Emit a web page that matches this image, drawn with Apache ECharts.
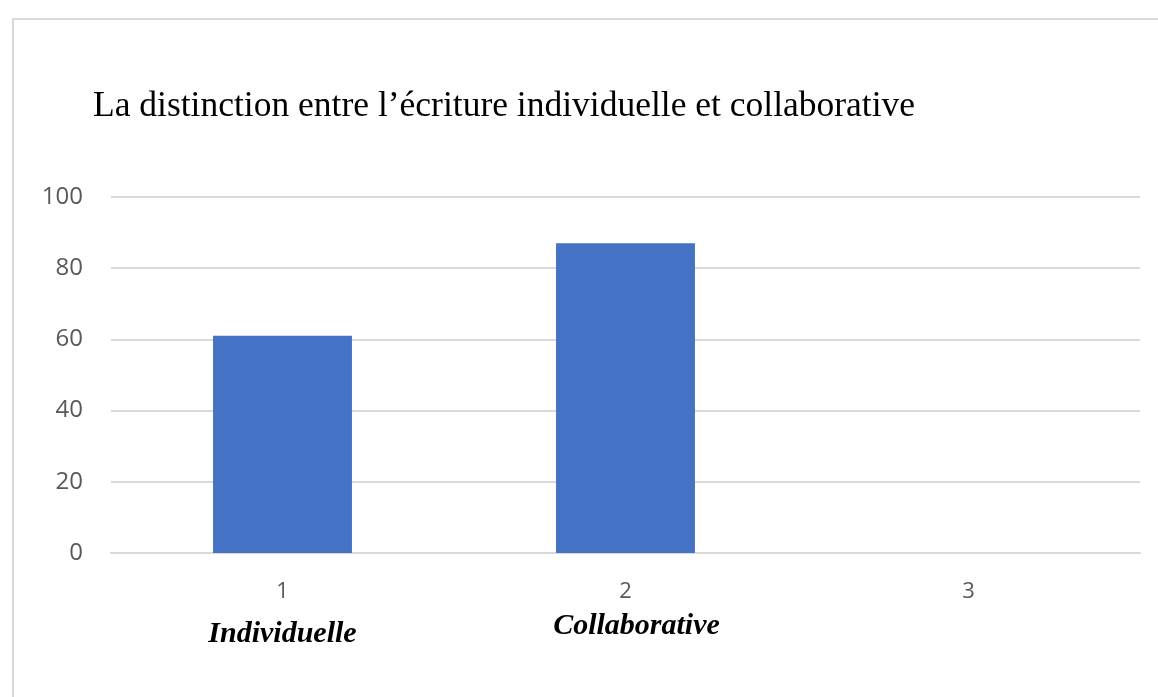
<!DOCTYPE html>
<html>
<head>
<meta charset="utf-8">
<script src="https://cdn.jsdelivr.net/npm/echarts@6/dist/echarts.min.js"></script>
<style>
  html, body { margin: 0; padding: 0; background: #fff; }
  .frame {
    position: absolute; left: 12px; top: 18px;
    width: 1160px; height: 700px;
    border: 2px solid #d9d9d9;
  }
  #main { position: absolute; left: 0; top: 0; width: 1158px; height: 697px; }
</style>
</head>
<body>
<div class="frame"></div>
<div id="main"></div>
<script>
// categories and values
var categories = ['1', '2', '3'];
var typeNames = ['Individuelle', 'Collaborative', ''];
var values = [61, 87, 0];
var yTicks = [0, 20, 40, 60, 80, 100];

var chartDom = document.getElementById('main');
var myChart = echarts.init(chartDom, null, { renderer: 'canvas' });
var nameStyle = {
  fontFamily: 'Liberation Serif',
  fontStyle: 'italic',
  fontWeight: 'bold',
  fontSize: 30,
  color: '#000'
};
var option = {
  animation: false,
  title: {
    text: 'La distinction entre l\u2019\u00e9criture individuelle et collaborative',
    left: 88,
    top: 84,
    textStyle: {
      fontFamily: 'Liberation Serif',
      fontWeight: 'normal',
      fontSize: 35.5,
      color: '#000'
    }
  },
  grid: {
    left: 111,
    right: 18,
    top: 197,
    bottom: 144
  },
  xAxis: {
    type: 'category',
    data: categories,
    axisTick: { show: false },
    axisLine: { lineStyle: { color: '#d9d9d9', width: 2 } },
    axisLabel: {
      margin: 19,
      formatter: function (v, i) {
        return '{num|' + v + '}\n{n' + i + '|' + (typeNames[i] || ' ') + '}';
      },
      rich: {
        num: {
          fontFamily: 'Open Sans',
          fontSize: 22,
          color: '#595959',
          lineHeight: 40
        },
        n0: Object.assign({ lineHeight: 44 }, nameStyle),
        n1: Object.assign({ lineHeight: 28, padding: [0, 0, 0, 22] }, nameStyle),
        n2: Object.assign({ lineHeight: 28 }, nameStyle)
      }
    }
  },
  yAxis: {
    type: 'value',
    min: yTicks[0],
    max: yTicks[yTicks.length - 1],
    interval: 20,
    axisLine: { show: false },
    axisTick: { show: false },
    axisLabel: {
      margin: 28,
      fontFamily: 'Open Sans',
      fontSize: 24,
      color: '#595959'
    },
    splitLine: { lineStyle: { color: '#d9d9d9', width: 2 } }
  },
  series: [
    {
      type: 'bar',
      data: values,
      barWidth: '40.5%',
      itemStyle: { color: '#4472c4' }
    }
  ]
};

option && myChart.setOption(option);
</script>
</body>
</html>
